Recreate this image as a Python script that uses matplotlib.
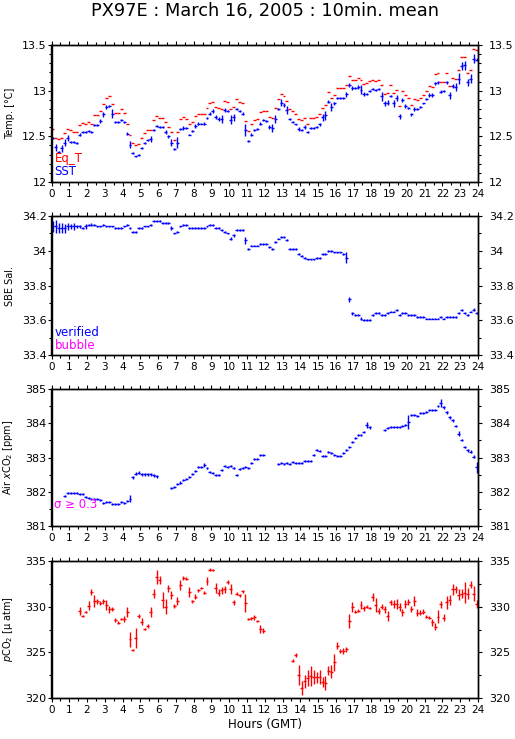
import numpy as np
import matplotlib
matplotlib.use("Agg")
import matplotlib.pyplot as plt
from matplotlib.ticker import MultipleLocator, FuncFormatter

plt.rcParams['font.family'] = ['DejaVu Sans']

# ---------------- data (10-min means, slot k covers [k/6,(k+1)/6] h) ----------------
n_slots = 144
hours = (np.arange(n_slots) + 0.5) / 6.0

sst = [
    12.48, 12.38, 12.33, 12.37, 12.43, 12.48, 12.44, 12.44, 12.43, 12.52,
    12.55, 12.55, 12.56, 12.55, 12.62, 12.62, 12.67, 12.74, 12.82, 12.83,
    12.75, 12.66, 12.66, 12.68, 12.66, 12.53, 12.41, 12.32, 12.28, 12.30,
    12.37, 12.43, 12.46, 12.47, 12.57, 12.61, 12.60, 12.60, 12.55, 12.50,
    12.43, 12.36, 12.43, 12.58, 12.59, 12.59, 12.52, 12.56, 12.61, 12.64,
    12.64, 12.64, 12.70, 12.75, 12.78, 12.71, 12.69, 12.69, 12.79, 12.78,
    12.68, 12.71, 12.80, 12.78, 12.75, 12.57, 12.45, 12.52, 12.57, 12.58,
    12.64, 12.68, 12.67, 12.60, 12.59, 12.69, 12.80, 12.87, 12.84, 12.79,
    12.69, 12.66, 12.63, 12.58, 12.57, 12.60, 12.55, 12.59, 12.59, 12.60,
    12.63, 12.71, 12.73, 12.88, 12.82, 12.86, 12.92, 12.92, 12.92, 12.96,
    13.06, 13.03, 13.03, 13.04, 13.01, 12.96, 12.96, 13.00, 13.02,
    13.01, 13.02, 12.94, 12.86, 12.87, 12.94, 12.86, 12.92, 12.72, 12.90,
    12.83, 12.81, 12.74, 12.80, 12.80, 12.82, 12.86, 12.91, 12.95, 12.95,
    13.08, 13.09, 12.99, 13.00, 13.09, 12.95, 13.05, 13.04, 13.13, 13.27,
    13.28, 13.09, 13.13, 13.35, 13.34]

sst_err = [
    .01, .04, .01, .04, .04, .03, .01, .01, .01, .02,
    .01, .01, .01, .01, .01, .01, .02, .03, .02, .01,
    .05, .01, .01, .01, .01, .02, .04, .01, .01, .01,
    .01, .01, .01, .03, .01, .01, .01, .01, .02, .02,
    .04, .01, .06, .01, .02, .01, .01, .01, .02, .02,
    .01, .02, .01, .02, .02, .02, .02, .04, .02, .01,
    .05, .04, .01, .01, .02, .07, .01, .02, .01, .01,
    .02, .01, .01, .02, .04, .04, .01, .04, .02, .04,
    .01, .01, .01, .02, .01, .02, .01, .01, .01, .01,
    .02, .04, .05, .02, .04, .02, .01, .01, .01, .03,
    .02, .02, .01, .02, .05, .02, .01, .01, .01,
    .01, .01, .05, .03, .03, .01, .04, .03, .03, .02,
    .02, .01, .02, .02, .01, .01, .01, .01, .02, .02,
    .02, .02, .02, .01, .02, .04, .02, .04, .06, .04,
    .05, .04, .05, .05, .02]

eq_t = [
    12.58, 12.48, 12.47, 12.48, 12.54, 12.58, 12.57, 12.55, 12.55, 12.62,
    12.65, 12.64, 12.66, 12.64, 12.73, 12.73, 12.78, 12.85, 12.92, 12.94,
    12.85, 12.76, 12.76, 12.80, 12.76, 12.64, 12.52, 12.43, 12.40, 12.42,
    12.48, 12.54, 12.57, 12.57, 12.68, 12.72, 12.70, 12.70, 12.66, 12.60,
    12.55, 12.46, 12.55, 12.69, 12.71, 12.69, 12.63, 12.66, 12.72, 12.75,
    12.75, 12.75, 12.81, 12.86, 12.88, 12.82, 12.81, 12.80, 12.89, 12.88,
    12.80, 12.82, 12.91, 12.88, 12.86, 12.67, 12.56, 12.63, 12.68, 12.69,
    12.77, 12.78, 12.78, 12.71, 12.70, 12.81, 12.91, 12.96, 12.94, 12.89,
    12.80, 12.78, 12.75, 12.69, 12.68, 12.70, 12.64, 12.70, 12.70, 12.71,
    12.74, 12.81, 12.84, 12.98, 12.92, 12.95, 13.03, 13.03, 13.03, 13.06,
    13.16, 13.12, 13.12, 13.14, 13.12, 13.07, 13.08, 13.11, 13.12,
    13.11, 13.12, 13.06, 12.96, 12.97, 13.06, 12.97, 13.01, 12.83, 13.00,
    12.95, 12.92, 12.84, 12.91, 12.90, 12.92, 12.95, 13.00, 13.05, 13.04,
    13.18, 13.19, 13.09, 13.10, 13.19, 13.05, 13.14, 13.13, 13.23, 13.37,
    13.37, 13.19, 13.23, 13.46, 13.44]

salinity = [
    34.14, 34.14, 34.13, 34.13, 34.13, 34.14, 34.14, 34.14, 34.14, 34.14,
    34.13, 34.14, 34.15, 34.15, 34.15, 34.14, 34.14, 34.15, 34.14, 34.14,
    34.14, 34.13, 34.13, 34.13, 34.14, 34.15, 34.13, 34.11, 34.11, 34.13,
    34.13, 34.14, 34.14, 34.15, 34.17, 34.17, 34.17, 34.16, 34.16, 34.16,
    34.13, 34.10, 34.11, 34.14, 34.15, 34.15, 34.13, 34.13, 34.13, 34.13,
    34.13, 34.13, 34.14, 34.15, 34.15, 34.13, 34.13, 34.12, 34.11, 34.10,
    34.07, 34.09, 34.12, 34.12, 34.12, 34.06, 34.01, 34.03, 34.03, 34.03,
    34.04, 34.04, 34.04, 34.02, 34.01, 34.05, 34.07, 34.08, 34.08, 34.06,
    34.01, 34.01, 34.01, 33.98, 33.97, 33.96, 33.95, 33.95, 33.95, 33.96,
    33.96, 33.98, 33.98, 34.00, 34.00, 33.99, 33.99, 33.99, 33.98, 33.96,
    33.72, 33.64, 33.63, 33.63, 33.61, 33.60, 33.60, 33.60, 33.63,
    33.64, 33.64, 33.63, 33.63, 33.64, 33.65, 33.65, 33.66, 33.63, 33.64,
    33.64, 33.63, 33.63, 33.63, 33.62, 33.62, 33.62, 33.61, 33.61, 33.61,
    33.61, 33.61, 33.62, 33.61, 33.62, 33.62, 33.62, 33.62, 33.64, 33.66,
    33.64, 33.63, 33.65, 33.66, 33.64]

sal_err = [
    .03, .035, .03, .03, .025, .02, .015, .02, .01, .01,
    .005, .015, .005, .01, .005, .005, .005, .005, .005, .005,
    .005, .005, .005, .005, .005, .005, .005, .005, .005, .005,
    .005, .005, .005, .005, .005, .005, .005, .005, .005, .005,
    .01, .005, .005, .005, .005, .005, .005, .005, .005, .005,
    .005, .005, .005, .005, .005, .005, .005, .005, .005, .005,
    .01, .008, .005, .005, .005, .02, .005, .005, .005, .005,
    .005, .005, .005, .005, .005, .005, .005, .005, .005, .005,
    .005, .005, .005, .005, .005, .005, .005, .005, .005, .005,
    .005, .005, .005, .005, .005, .005, .005, .005, .005, .03,
    .015, .01, .005, .005, .008, .005, .005, .005, .005,
    .005, .005, .005, .005, .005, .005, .005, .005, .005, .005,
    .005, .005, .005, .005, .005, .005, .005, .005, .005, .005,
    .005, .005, .005, .005, .005, .005, .005, .005, .005, .005,
    .005, .005, .005, .008, .005]

# Air xCO2: four blocks of 32 samples separated by standard runs
xco2_blocks_start = [4, 40, 76, 112]
xco2_blocks = [
    [381.88, 381.95, 381.95, 381.95, 381.95, 381.93, 381.93, 381.85, 381.82, 381.78,
     381.78, 381.80, 381.75, 381.68, 381.70, 381.70, 381.65, 381.65, 381.65, 381.70,
     381.68, 381.72, 381.80, 382.42, 382.53, 382.56, 382.51, 382.51, 382.51, 382.51,
     382.48, 382.45],
    [382.12, 382.14, 382.22, 382.27, 382.34, 382.37, 382.42, 382.51, 382.61, 382.73,
     382.73, 382.78, 382.68, 382.58, 382.55, 382.50, 382.50, 382.63, 382.75, 382.71,
     382.76, 382.70, 382.50, 382.66, 382.70, 382.71, 382.70, 382.85, 382.95, 382.95,
     383.07, 383.07],
    [382.80, 382.84, 382.82, 382.84, 382.82, 382.87, 382.85, 382.85, 382.85, 382.89,
     382.89, 382.89, 383.07, 383.21, 383.20, 383.05, 383.05, 383.15, 383.12, 383.07,
     383.05, 383.05, 383.12, 383.21, 383.31, 383.46, 383.58, 383.65, 383.67, 383.75,
     383.95, 383.88],
    [383.80, 383.85, 383.88, 383.88, 383.88, 383.90, 383.93, 383.95, 384.04, 384.24,
     384.24, 384.22, 384.29, 384.29, 384.34, 384.40, 384.40, 384.40, 384.50, 384.60,
     384.46, 384.32, 384.17, 384.09, 383.92, 383.70, 383.51, 383.31, 383.21, 383.17,
     383.02, 382.71]]
xco2_err_blocks = [
    [.03] * 22 + [.10] + [.04] * 9,
    [.03] * 11 + [.07] + [.03] * 20,
    [.03] * 30 + [.09, .04],
    [.03] * 8 + [.20] + [.03] * 10 + [.12] + [.04] * 5 + [.08] + [.04] * 5 + [.15]]

# pCO2 (seawater): two blocks
pco2_blocks_start = [9, 81]
pco2_blocks = [
    [329.55, 328.97, 329.37, 330.10, 331.62, 330.60, 330.60, 330.42, 330.60, 330.17,
     329.70, 329.70, 328.53, 328.24, 328.64, 328.64, 329.44, 326.43, 325.26, 326.54,
     329.01, 328.35, 327.52, 327.92, 329.37, 331.44, 333.26, 332.89, 330.71, 329.99,
     331.99, 331.26, 330.06, 330.60, 332.42, 333.15, 333.07, 331.62, 330.60, 331.08,
     331.80, 332.06, 331.55, 332.78, 334.06, 334.06, 332.06, 331.55, 331.80, 331.88,
     332.71, 331.91, 330.46, 331.44, 331.26, 331.69, 330.42, 328.64, 328.72, 328.82,
     328.42, 327.52, 327.37],
    [324.07, 324.72, 322.54, 321.09, 321.81, 322.18, 322.36, 322.29, 322.25, 322.29,
     321.71, 321.63, 323.01, 322.90, 323.92, 325.74, 325.16, 325.16, 325.34, 328.43,
     329.99, 329.44, 329.55, 330.17, 329.81, 329.99, 329.88, 331.08, 330.17, 329.52,
     329.99, 329.70, 328.97, 330.46, 330.24, 330.24, 329.99, 329.37, 330.24, 330.53,
     329.73, 330.60, 329.33, 329.33, 329.44, 328.90, 328.79, 328.28, 327.81, 328.90,
     330.24, 328.79, 330.46, 330.71, 331.88, 331.88, 331.33, 331.44, 331.51, 331.44,
     332.42, 331.44, 330.24]]
pco2_err_blocks = [
    [.44, .15, .11, .47, .36, .65, .29, .22, .29, .51,
     .36, .22, .22, .18, .15, .29, .55, .80, .11, 1.09,
     .22, .36, .11, .22, .55, .44, .73, .44, .91, .80,
     .36, .44, .18, .44, .55, .22, .15, .55, .18, .29,
     .15, .11, .15, .44, .15, .11, .55, .36, .36, .36,
     .18, .55, .29, .18, .15, .18, 1.02, .11, .18, .29,
     .15, .44, .29],
    [.18, .18, 1.09, .80, .73, .91, 1.09, .80, .65, .73,
     .55, .73, .44, .73, .91, .36, .18, .29, .29, .73,
     .55, .18, .15, .44, .29, .18, .11, .44, .80, .36,
     .29, .36, .55, .29, .44, .55, .44, .36, .44, .36,
     .36, .55, .36, .29, .29, .18, .15, .36, .36, .73,
     .36, .36, .73, .55, .65, .36, .55, .44, 1.16, .55,
     .36, .80, .44]]


def fill_blocks(starts, blocks):
    arr = np.full(n_slots, np.nan)
    for s, b in zip(starts, blocks):
        arr[s:s + len(b)] = b
    return arr


xco2 = fill_blocks(xco2_blocks_start, xco2_blocks)
xco2_err = fill_blocks(xco2_blocks_start, xco2_err_blocks)
pco2 = fill_blocks(pco2_blocks_start, pco2_blocks)
pco2_err = fill_blocks(pco2_blocks_start, pco2_err_blocks)

# ---------------- figure ----------------
W, H = 515, 739
fig = plt.figure(figsize=(W / 100, H / 100), dpi=100)

left = 51.5 / W
width = (478 - 51.5) / W
panel_px = [(45, 182), (216, 355), (389, 526), (561, 698)]
ylims = [(12, 13.5), (33.4, 34.2), (381, 385), (320, 335)]
ymaj = [0.5, 0.2, 1, 5]
ymin = [0.1, 0.1, 0.5, 2.5]
ylabels = ["Temp. [°C]", "SBE Sal.", r"Air $x$CO$_2$ [ppm]", r"$p$CO$_2$ [µ atm]"]

BLUE = "#0000ff"
RED = "#ff0000"
MAG = "#ff00ff"
half = 1 / 12.0
lw = 1.0
YFS = 8
gfmt = FuncFormatter(lambda v, p: f"{round(v, 3):g}")

axes = []
for i, (top, bot) in enumerate(panel_px):
    ax = fig.add_axes([left, 1 - bot / H, width, (bot - top) / H])
    ax.set_xlim(0, 24)
    ax.set_ylim(*ylims[i])
    ax.xaxis.set_major_locator(MultipleLocator(1))
    ax.xaxis.set_minor_locator(MultipleLocator(0.5))
    ax.yaxis.set_major_locator(MultipleLocator(ymaj[i]))
    ax.yaxis.set_minor_locator(MultipleLocator(ymin[i]))
    ax.yaxis.set_major_formatter(gfmt)
    ax.tick_params(which='both', direction='out', top=True, right=True,
                   labelright=False, width=0.8, colors='black')
    ax.tick_params(which='major', length=3)
    ax.tick_params(which='minor', length=2)
    ax.tick_params(axis='x', labelsize=7.5, pad=2)
    ax.tick_params(axis='y', labelsize=YFS, pad=0.5)
    for sp in ax.spines.values():
        sp.set_linewidth(1.0)
    ax.set_xticks(range(25))
    ax.set_xticklabels([str(h) for h in range(25)])
    ax.set_ylabel(ylabels[i], fontsize=7)
    ax.yaxis.set_label_coords(-0.085, 0.5)
    # right-hand labels with a wider gap
    axr = ax.twinx()
    axr.set_ylim(*ylims[i])
    axr.yaxis.set_major_locator(MultipleLocator(ymaj[i]))
    axr.yaxis.set_minor_locator(MultipleLocator(ymin[i]))
    axr.yaxis.set_major_formatter(gfmt)
    axr.tick_params(which='both', direction='out', width=0.8)
    axr.tick_params(which='major', length=3, labelsize=YFS, pad=5)
    axr.tick_params(which='minor', length=2)
    for sp in axr.spines.values():
        sp.set_linewidth(1.0)
    axes.append(ax)

ax1, ax2_, ax3, ax4 = axes

# Panel 1: temperatures
ax1.errorbar(hours, eq_t, xerr=half, fmt='none', ecolor=RED, elinewidth=lw, capsize=0)
ax1.errorbar(hours, sst, xerr=half, yerr=sst_err, fmt='none', ecolor=BLUE,
             elinewidth=lw, capsize=0)
ax1.text(0.007, 0.175, "Eq_T", color=RED, fontsize=8.5, transform=ax1.transAxes,
         va='center', ha='left')
ax1.text(0.007, 0.075, "SST", color=BLUE, fontsize=8.5, transform=ax1.transAxes,
         va='center', ha='left')

# Panel 2: salinity
ax2_.errorbar(hours, salinity, xerr=half, yerr=sal_err, fmt='none', ecolor=BLUE,
              elinewidth=lw, capsize=0)
ax2_.text(0.007, 0.165, "verified", color=BLUE, fontsize=8.5, transform=ax2_.transAxes,
          va='center', ha='left')
ax2_.text(0.007, 0.07, "bubble", color=MAG, fontsize=8.5, transform=ax2_.transAxes,
          va='center', ha='left')

# Panel 3: air xCO2
ax3.errorbar(hours, xco2, xerr=half, yerr=xco2_err, fmt='none', ecolor=BLUE,
             elinewidth=lw, capsize=0)
ax3.text(0.007, 0.16, "σ ≥ 0.3", color=MAG, fontsize=8.5, transform=ax3.transAxes,
         va='center', ha='left')

# Panel 4: pCO2
ax4.errorbar(hours, pco2, xerr=half, yerr=pco2_err, fmt='none', ecolor=RED,
             elinewidth=lw, capsize=0)
ax4.set_xlabel("Hours (GMT)", fontsize=8.5, labelpad=2)

fig.text(264.75 / W, 1 - 11 / H, "PX97E : March 16, 2005 : 10min. mean",
         ha='center', va='center', fontsize=12.8)

fig.savefig("out.png", dpi=100)
